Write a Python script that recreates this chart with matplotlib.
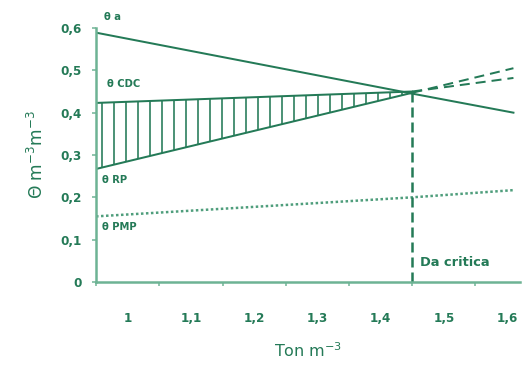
import numpy as np
import matplotlib
matplotlib.use('Agg')
import matplotlib.pyplot as plt

# densidad aparente (Ton m-3)
x = [0.95, 1.45, 1.61]
theta_a = [0.589, 0.445, 0.400]
theta_cdc = [0.423, 0.450, 0.482]
theta_rp = [0.267, 0.447, 0.505]
theta_pmp = [0.155, 0.200, 0.217]
da_critica = 1.45
xticks = [1, 1.1, 1.2, 1.3, 1.4, 1.5, 1.6]
xticklabels = ['1', '1,1', '1,2', '1,3', '1,4', '1,5', '1,6']
yticks = [0, 0.1, 0.2, 0.3, 0.4, 0.5, 0.6]
yticklabels = ['0', '0,1', '0,2', '0,3', '0,4', '0,5', '0,6']

green = '#247a57'
light = '#6db394'
plt.rcParams['hatch.color'] = green
plt.rcParams['hatch.linewidth'] = 1.6

fig = plt.figure(figsize=(532 / 72, 367 / 72), dpi=72)
ax = fig.add_axes([0.1805, 0.2316, 0.7965, 0.6921])

ax.plot(x, theta_a, color=green, lw=2)
ax.plot(x[:2], theta_cdc[:2], color=green, lw=2)
ax.plot(x[1:], theta_cdc[1:], color=green, lw=2, ls=(0, (5, 3)))
ax.plot(x[:2], theta_rp[:2], color=green, lw=2)
ax.plot(x[1:], theta_rp[1:], color=green, lw=2, ls=(0, (5, 3)))
ax.plot(x, theta_pmp, color='#4f9e7c', lw=2.5, ls=(0, (1, 1)))
ax.fill_between(x[:2], theta_rp[:2], theta_cdc[:2], facecolor='none',
				edgecolor=green, hatch='|', lw=0)
ax.plot([da_critica, da_critica], [0, theta_rp[1]], color=green, lw=2.5, ls=(0, (4, 2)))

ax.set_xlim(0.95, 1.62)
ax.set_ylim(0, 0.6)
ax.set_xticks(xticks)
ax.set_xticklabels(xticklabels)
ax.set_xticks(np.arange(0.95, 1.6, 0.1), minor=True)
ax.set_yticks(yticks)
ax.set_yticklabels(yticklabels)
ax.tick_params(axis='x', which='major', length=0, pad=30, labelsize=12, labelcolor=green)
ax.tick_params(axis='x', which='minor', length=4, width=1.5, color=light, direction='out')
ax.tick_params(axis='y', length=4, width=1.5, color=light, pad=10, labelsize=12, labelcolor=green)
for lab in ax.get_xticklabels() + ax.get_yticklabels():
	lab.set_fontweight('bold')

for s in ['top', 'right']:
	ax.spines[s].set_visible(False)
for s in ['left', 'bottom']:
	ax.spines[s].set_color(light)
	ax.spines[s].set_linewidth(2.5)

ax.set_xlabel('Ton m$^{-3}$', fontsize=16, color=green, labelpad=16)
ax.set_ylabel(r'$\Theta$ m$^{-3}$m$^{-3}$', fontsize=17, color=green, labelpad=14)

kw = dict(color=green, fontsize=10, fontweight='bold', va='center', clip_on=False)
ax.text(0.963, 0.626, '\u03b8 a', **kw)
ax.text(0.967, 0.468, '\u03b8 CDC', **kw)
ax.text(0.96, 0.241, '\u03b8 RP', **kw)
ax.text(0.96, 0.13, '\u03b8 PMP', **kw)
ax.text(1.463, 0.045, 'Da critica', color=green, fontsize=13, fontweight='bold', va='center')

fig.savefig('out.png', dpi=72)
